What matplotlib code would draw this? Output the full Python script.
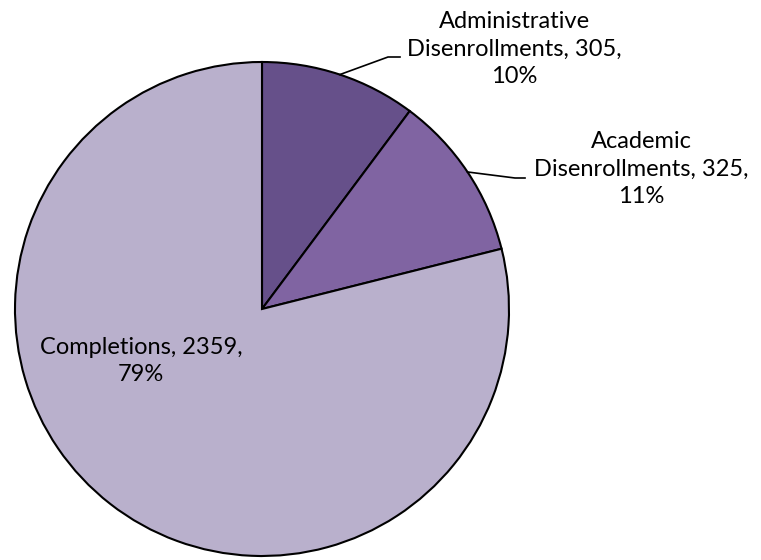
import numpy as np
import matplotlib
matplotlib.use("Agg")
import matplotlib.pyplot as plt

labels = ["Administrative\nDisenrollments", "Academic\nDisenrollments", "Completions"]
values = [305, 325, 2359]
colors = ["#66508a", "#8064a2", "#b9b0cc"]

plt.rcParams['font.family'] = ['Lato', 'DejaVu Sans']

fig = plt.figure(figsize=(7.61, 5.60), dpi=100)
ax = fig.add_axes([0, 0, 1, 1])

cx, cy, r = 262, 251, 247
wedges, _ = ax.pie(values, colors=colors, startangle=90, counterclock=False,
                   center=(cx, cy), radius=r, frame=True,
                   wedgeprops=dict(edgecolor='black', linewidth=1.5))
ax.set_xlim(0, 761)
ax.set_ylim(0, 560)
ax.set_aspect('equal')
ax.axis('off')

total = sum(values)
texts = []
for lab, v in zip(labels, values):
    pct = round(v / total * 100)
    first, *rest = lab.split("\n")
    if rest:
        texts.append(f"{first}\n{rest[0]}, {v},\n{pct}%")
    else:
        texts.append(f"{first}, {v},\n{pct}%")

# label positions (layout) and leader elbows
pos = [(514, 511), (641, 391), (141, 199)]
elbows = [((388, 503), (400, 503)), ((515, 382), (525, 382)), None]

for w, t, p, e in zip(wedges, texts, pos, elbows):
    ax.text(p[0], p[1], t, ha='center', va='center', fontsize=17,
            linespacing=1.38, color='black')
    if e is not None:
        mid = np.deg2rad((w.theta1 + w.theta2) / 2)
        x0, y0 = cx + r * np.cos(mid), cy + r * np.sin(mid)
        ax.plot([x0, e[0][0], e[1][0]], [y0, e[0][1], e[1][1]],
                color='black', linewidth=1.2)

fig.savefig("out.png", dpi=100)
